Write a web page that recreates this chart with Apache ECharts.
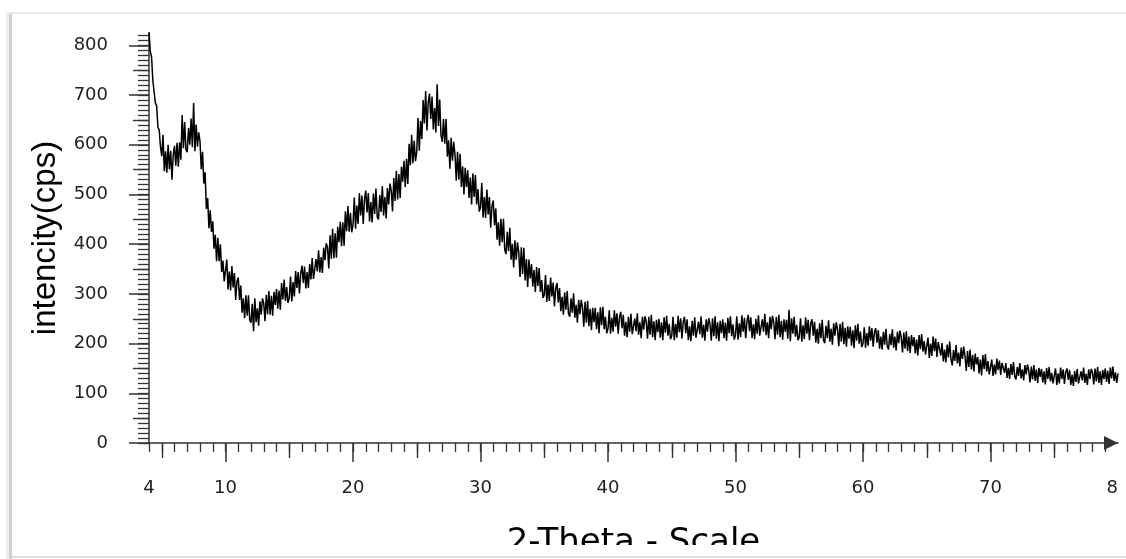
<!DOCTYPE html>
<html>
<head>
<meta charset="utf-8">
<script src="https://cdn.jsdelivr.net/npm/echarts@6/dist/echarts.min.js"></script>
<style>
  html, body { margin: 0; padding: 0; background: #fff; }
  #chart { width: 1126px; height: 559px; }
</style>
</head>
<body>
<div id="chart"></div>
<script>
// XRD scan: 2-theta from 4 to 80 degrees, one reading every 0.1 degree
const twoThetaStart = 4;
const twoThetaStep = 0.1;

// counts per second, one row per degree (x.0 .. x.9)
const counts04to20 = [
  828,788,777,730,728,684,679,635,630,596,
  577,620,547,587,544,600,551,588,530,580,
  598,558,604,556,605,570,660,593,646,590,
  585,634,600,653,595,684,587,641,596,625,
  607,551,586,522,545,471,493,432,468,425,
  446,391,419,366,413,366,400,344,367,325,
  329,369,309,345,307,356,313,342,288,325,
  333,288,317,262,291,251,297,256,297,247,
  242,280,225,291,243,271,236,285,258,291,
  281,245,298,259,306,258,296,256,304,278,
  310,270,307,268,322,289,329,286,314,282,
  291,335,285,324,295,346,312,344,301,341,
  357,322,355,311,344,312,360,329,372,330,
  328,370,345,388,343,374,342,393,368,402,
  394,351,418,371,431,372,422,373,435,404,
  445,396,444,397,466,426,477,425,463,424
];
const counts20to40 = [
  439,494,431,478,441,503,458,498,441,490,
  508,464,503,446,485,444,502,461,512,455,
  450,499,465,517,458,495,452,513,480,522,
  509,466,533,487,548,490,541,493,556,526,
  568,515,572,521,602,559,620,563,608,567,
  586,654,588,648,612,690,643,708,629,685,
  703,652,697,631,674,625,722,638,691,620,
  606,652,602,652,576,609,552,614,568,606,
  580,528,586,530,582,515,557,500,554,515,
  549,493,534,480,542,495,539,480,511,466,
  474,523,454,495,453,510,460,495,433,477,
  488,438,472,409,444,397,451,404,451,389,
  380,425,386,433,369,401,353,408,369,404,
  384,334,394,340,393,327,370,314,369,331,
  360,315,348,304,354,316,352,304,328,292,
  298,338,284,319,286,333,295,323,275,311,
  322,283,312,265,294,258,303,268,306,260,
  254,291,262,301,252,278,242,288,259,288,
  273,234,284,242,286,235,270,227,272,243,
  272,229,263,221,273,237,274,229,254,221
];
const counts40to60 = [
  230,267,220,252,224,267,234,261,220,253,
  264,231,258,216,244,213,254,224,260,219,
  216,251,225,261,218,243,211,254,228,255,
  244,210,254,218,258,213,245,207,248,223,
  250,212,243,207,253,222,256,216,240,209,
  216,254,207,240,212,256,223,251,210,244,
  254,221,249,207,235,205,246,216,253,212,
  209,244,219,255,212,238,206,249,224,251,
  240,206,251,215,255,210,243,205,246,221,
  249,211,242,206,252,221,255,215,239,208,
  217,255,208,241,213,257,224,252,211,245,
  258,225,253,211,239,209,250,220,257,216,
  214,249,224,260,217,243,211,254,229,256,
  243,209,254,218,258,213,246,208,249,224,
  248,210,268,205,251,220,254,214,238,207,
  213,251,204,237,209,253,220,248,207,241,
  249,216,244,202,230,200,241,211,248,207,
  201,236,211,247,204,230,198,241,216,243,
  229,195,240,204,244,199,232,194,235,210,
  234,196,227,191,237,206,240,200,224,193
];
const counts60to80 = [
  200,233,192,221,196,235,206,231,194,224,
  231,202,227,190,214,188,224,198,230,195,
  188,219,197,229,192,214,186,224,201,226,
  212,182,222,190,225,185,214,181,217,195,
  213,180,208,176,217,189,219,184,205,178,
  179,212,171,200,175,214,185,210,173,203,
  205,176,201,164,188,162,198,172,204,169,
  156,187,165,197,160,182,154,192,169,194,
  175,145,185,153,188,148,177,144,180,158,
  173,140,168,136,177,149,179,144,165,138,
  141,168,135,158,138,170,147,166,137,161,
  164,141,161,131,151,129,159,137,163,134,
  128,153,135,161,130,148,126,157,138,158,
  146,122,154,128,157,125,148,121,151,133,
  149,122,144,118,151,129,153,124,141,120,
  123,150,117,140,120,152,129,148,119,143,
  150,127,147,117,137,115,145,123,149,120,
  119,144,126,152,121,139,117,148,129,149,
  142,118,150,124,153,121,144,117,147,129,
  150,123,145,119,152,130,154,125,142,121,
  140
];

// axis tick labels
const xLabelValues = [4, 10, 20, 30, 40, 50, 60, 70, 80];
const yLabelValues = [0, 100, 200, 300, 400, 500, 600, 700, 800];

const X_MIN = 4, X_MAX = 80, Y_MIN = 0, Y_MAX = 825;

function steps(from, to, step) {
  const out = [];
  for (let v = from; v <= to + 1e-9; v += step) out.push(Math.round(v * 10) / 10);
  return out;
}

const intensity = [].concat(counts04to20, counts20to40, counts40to60, counts60to80);
const seriesData = intensity.map((c, i) => [Math.round((twoThetaStart + i * twoThetaStep) * 10) / 10, c]);

// three tick ranks per axis: major (labelled), half-step, fine
const xMajorTicks = steps(10, 70, 10);
const xMidTicks = steps(5, 75, 10);
const xFineTicks = steps(4, 79, 1);
const yMajorTicks = yLabelValues;
const yMidTicks = steps(50, 750, 100);
const yFineTicks = steps(0, 820, 10);

const tickColor = '#333';
const labelFont = { fontFamily: 'DejaVu Sans', fontSize: 18, color: '#222' };

function xRank(ticks, len, width, extra) {
  return Object.assign({
    type: 'value', gridIndex: 0, position: 'bottom', min: X_MIN, max: X_MAX,
    axisLine: { show: false },
    axisTick: { show: true, customValues: ticks, length: len, lineStyle: { color: tickColor, width: width } },
    axisLabel: { show: false },
    splitLine: { show: false }
  }, extra || {});
}
function yRank(ticks, len, width, extra) {
  return Object.assign({
    type: 'value', gridIndex: 0, position: 'left', min: Y_MIN, max: Y_MAX,
    axisLine: { show: false },
    axisTick: { show: true, customValues: ticks, length: len, lineStyle: { color: tickColor, width: width } },
    axisLabel: { show: false },
    splitLine: { show: false }
  }, extra || {});
}

const chart = echarts.init(document.getElementById('chart'), null, { renderer: 'canvas' });

chart.setOption({
  animation: false,
  backgroundColor: '#fff',
  grid: { left: 149, right: 8, top: 33, bottom: 116, containLabel: false, outerBoundsMode: 'none' },
  xAxis: [
    xRank(xMajorTicks, 19, 1.5, {
      name: '2-Theta - Scale',
      nameLocation: 'middle',
      nameGap: 83,
      nameTextStyle: { fontFamily: 'DejaVu Sans', fontSize: 34, color: '#000' },
      axisLine: {
        show: true,
        lineStyle: { color: tickColor, width: 1.5 },
        symbol: ['none', 'triangle'],
        symbolSize: [14, 14],
        symbolOffset: [0, -7]
      },
      axisLabel: Object.assign({ show: true, customValues: xLabelValues, margin: 36 }, labelFont)
    }),
    xRank(xMidTicks, 15, 1.4),
    xRank(xFineTicks, 9, 1.3)
  ],
  yAxis: [
    yRank(yMajorTicks, 20, 1.5, {
      name: 'intencity(cps)',
      nameLocation: 'middle',
      nameGap: 86,
      nameTextStyle: { fontFamily: 'Liberation Sans', fontSize: 33, color: '#000' },
      axisLine: { show: true, lineStyle: { color: tickColor, width: 1.5 } },
      axisLabel: Object.assign({ show: true, customValues: yLabelValues, margin: 41, padding: [7, 0, 0, 0] }, labelFont)
    }),
    yRank(yMidTicks, 16, 1.4),
    yRank(yFineTicks, 11, 1.3)
  ],
  series: [{
    type: 'line',
    xAxisIndex: 0,
    yAxisIndex: 0,
    data: seriesData,
    showSymbol: false,
    symbol: 'none',
    silent: true,
    lineStyle: { color: '#000', width: 1.5 },
    z: 3
  }],
  graphic: [
    // page frame: shadowed left edge, top and bottom rules
    { type: 'rect', z: 100, silent: true, shape: { x: 6, y: 12, width: 3, height: 547 }, style: { fill: '#ececec' } },
    { type: 'rect', z: 100, silent: true, shape: { x: 9, y: 12, width: 3, height: 547 }, style: { fill: '#d0d0d0' } },
    { type: 'rect', z: 100, silent: true, shape: { x: 8, y: 12, width: 1118, height: 2 }, style: { fill: '#e8e8e8' } },
    // cropped margins at the bottom and right edge
    { type: 'rect', z: 99, silent: true, shape: { x: 12, y: 545, width: 1114, height: 11 }, style: { fill: '#fff' } },
    { type: 'rect', z: 99, silent: true, shape: { x: 1119, y: 15, width: 7, height: 541 }, style: { fill: '#fff' } },
    { type: 'rect', z: 100, silent: true, shape: { x: 12, y: 556, width: 1114, height: 2 }, style: { fill: '#dedede' } }
  ]
});
</script>
</body>
</html>
